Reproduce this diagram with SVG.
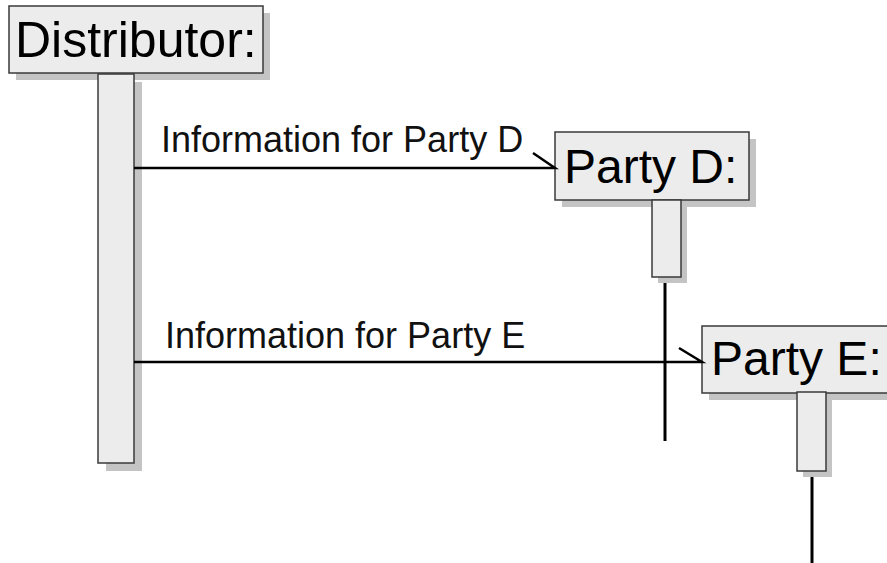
<svg xmlns="http://www.w3.org/2000/svg" width="887" height="563" viewBox="0 0 887 563">
  <style>
    .shadow { fill: #c4c4c4; }
    .box { fill: #ececec; stroke: #3a3a3a; stroke-width: 1.5; }
    .title { font-family: "Liberation Sans", Arial, sans-serif; font-size: 48px; fill: #000; }
    .label { font-family: "Liberation Sans", Arial, sans-serif; font-size: 36px; fill: #111; }
    .msg { stroke: #000; stroke-width: 2.5; fill: none; }
    .life { stroke: #000; stroke-width: 3; }
  </style>

  <!-- Distributor object -->
  <g id="distributor">
    <rect class="shadow" x="16" y="13" width="254" height="67"/>
    <rect class="box" x="9" y="6" width="254" height="67"/>
    <text class="title" x="15" y="57" style="font-size:50px">Distributor:</text>
    <rect class="shadow" x="106" y="82" width="36" height="389"/>
    <rect class="box" x="98" y="74" width="36" height="389"/>
  </g>

  <!-- Party D object -->
  <g id="party-d">
    <line class="life" x1="665" y1="277" x2="665" y2="441"/>
    <rect class="shadow" x="562" y="139" width="194" height="68"/>
    <rect class="box" x="555" y="132" width="194" height="68"/>
    <text class="title" x="564" y="183">Party D:</text>
    <rect class="shadow" x="658" y="206" width="29" height="77"/>
    <rect class="box" x="652" y="200" width="29" height="77"/>
  </g>

  <!-- Party E object -->
  <g id="party-e">
    <line class="life" x1="812" y1="471" x2="812" y2="563"/>
    <rect class="shadow" x="709" y="333" width="200" height="67"/>
    <rect class="box" x="702" y="326" width="200" height="67"/>
    <text class="title" x="711" y="375">Party E:</text>
    <rect class="shadow" x="803" y="398" width="29" height="79"/>
    <rect class="box" x="797" y="392" width="29" height="79"/>
  </g>

  <!-- Messages -->
  <g id="connectors">
    <polyline class="msg" points="134,168 555,168 533,153"/>
    <text class="label" x="161" y="152">Information for Party D</text>
    <polyline class="msg" points="134,362 702,362 679,348"/>
    <text class="label" x="165" y="348">Information for Party E</text>
  </g>
</svg>
